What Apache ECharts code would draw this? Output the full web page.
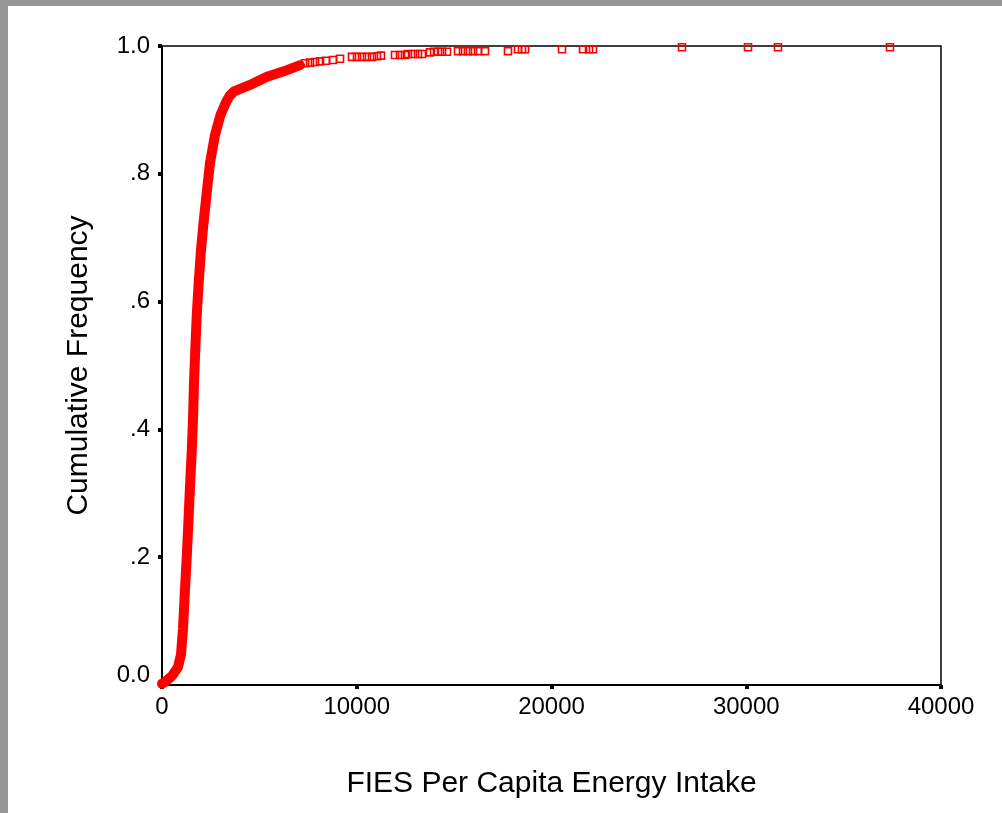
<!DOCTYPE html>
<html>
<head>
<meta charset="utf-8">
<script src="https://cdn.jsdelivr.net/npm/echarts@6/dist/echarts.min.js"></script>
<style>
html,body{margin:0;padding:0;background:#969696;width:1002px;height:813px;overflow:hidden;}
#panel{position:absolute;left:8px;top:6px;width:994px;height:807px;background:#fff;}
#chart{position:absolute;left:0;top:0;width:1002px;height:813px;}
</style>
</head>
<body>
<div id="panel"></div>
<div id="chart"></div>
<script>
// Dense part of the cumulative curve (energy intake, cumulative frequency)
const denseX = [0, 205, 513, 822, 976, 1078, 1181, 1284, 1361, 1438, 1525, 1592, 1643, 1710, 1782, 1884, 2003, 2121, 2285, 2465, 2721, 3004, 3286, 3470, 3700, 4519, 5392, 6213, 7086];
const denseY = [0.002, 0.006, 0.014, 0.028, 0.048, 0.088, 0.150, 0.208, 0.259, 0.311, 0.364, 0.416, 0.473, 0.525, 0.577, 0.630, 0.681, 0.720, 0.767, 0.817, 0.861, 0.892, 0.912, 0.922, 0.929, 0.939, 0.952, 0.960, 0.970];
// Sparse upper tail (individual cases)
const tailX = [7343, 7600, 7856, 8113, 8421, 8781, 9140, 9756, 10013, 10270, 10526, 10783, 11040, 11245, 11964, 12221, 12478, 12632, 12888, 13145, 13350, 13761, 13967, 14172, 14377, 14634, 15199, 15456, 15712, 15969, 16226, 16585, 17766, 18280, 18485, 18639, 20539, 21618, 21926, 22131, 26701, 30090, 31630, 37381];
const tailY = [0.973, 0.974, 0.975, 0.976, 0.977, 0.978, 0.980, 0.983, 0.983, 0.983, 0.983, 0.983, 0.984, 0.985, 0.986, 0.986, 0.986, 0.9875, 0.9875, 0.9875, 0.9875, 0.990, 0.991, 0.991, 0.991, 0.991, 0.992, 0.992, 0.992, 0.992, 0.992, 0.992, 0.992, 0.995, 0.995, 0.995, 0.995, 0.995, 0.995, 0.995, 0.998, 0.998, 0.998, 0.998];
const xTickLabels = ['0', '10000', '20000', '30000', '40000'];
const yTickLabels = ['0.0', '.2', '.4', '.6', '.8', '1.0'];
const xTitle = 'FIES Per Capita Energy Intake';
const yTitle = 'Cumulative Frequency';

const chart = echarts.init(document.getElementById('chart'), null, {renderer: 'canvas'});
const font = 'Liberation Sans, Arial, sans-serif';
chart.setOption({
  backgroundColor: 'transparent',
  animation: false,
  grid: {left: 162, right: 61, top: 46, bottom: 128, show: true, borderColor: '#000', borderWidth: 1.5, backgroundColor: 'transparent'},
  xAxis: {
    type: 'value', min: 0, max: 40000, interval: 10000,
    name: xTitle, nameLocation: 'middle', nameGap: 84,
    nameTextStyle: {fontFamily: font, fontSize: 30, color: '#000'},
    axisLine: {show: true, lineStyle: {color: '#000', width: 2}},
    axisTick: {show: true, inside: false, length: 4, lineStyle: {color: '#000', width: 4}},
    axisLabel: {fontFamily: font, fontSize: 24, color: '#000', margin: 10,
      formatter: function (v) { return xTickLabels[Math.round(v / 10000)]; }},
    splitLine: {show: false}
  },
  yAxis: {
    type: 'value', min: 0, max: 1, interval: 0.2,
    name: yTitle, nameLocation: 'middle', nameGap: 68, nameRotate: 90,
    nameTextStyle: {fontFamily: font, fontSize: 30, color: '#000'},
    axisLine: {show: true, lineStyle: {color: '#000', width: 2}},
    axisTick: {show: true, inside: false, length: 4, lineStyle: {color: '#000', width: 4}},
    axisLabel: {fontFamily: font, fontSize: 24, color: '#000', margin: 12,
      formatter: function (v) {
        const i = Math.round(v / 0.2);
        return i === 0 ? '{low|' + yTickLabels[0] + '}' : yTickLabels[i];
      },
      rich: {low: {fontFamily: font, fontSize: 24, color: '#000', padding: [0, 0, 20, 0]}}
    },
    splitLine: {show: false}
  },
  series: [
    {
      type: 'line', clip: false, symbol: 'none', smooth: false,
      data: denseX.map((x, i) => [x, denseY[i]]),
      lineStyle: {color: '#ff0000', width: 10, join: 'round', cap: 'round'}
    },
    {
      type: 'scatter', clip: false, symbol: 'rect', symbolSize: 7,
      data: tailX.map((x, i) => [x, tailY[i]]),
      itemStyle: {color: 'rgba(255,255,255,0)', borderColor: '#ff0000', borderWidth: 1.6, opacity: 1}
    }
  ]
});
</script>
</body>
</html>
